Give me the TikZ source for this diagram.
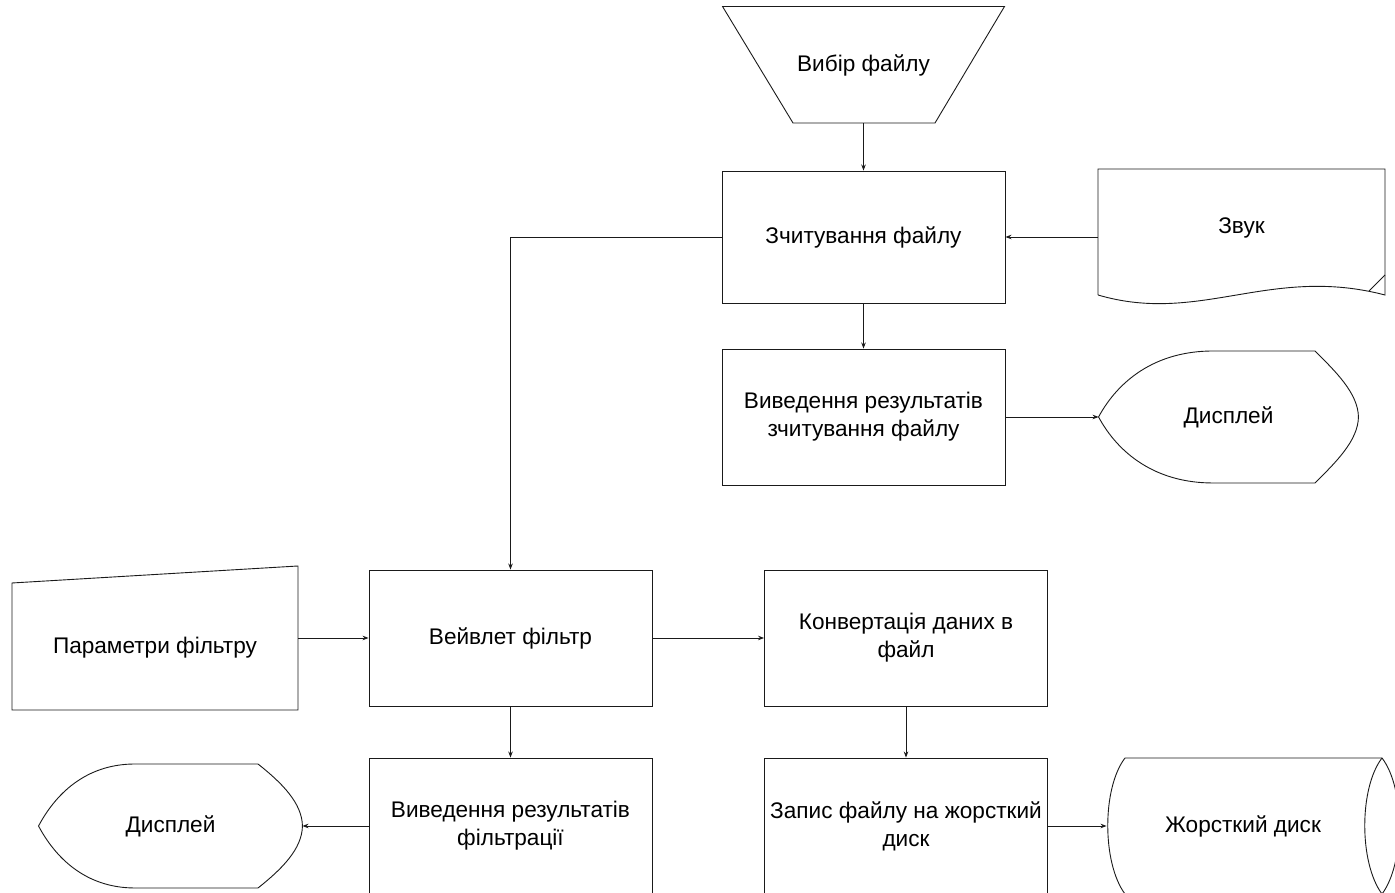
\documentclass[tikz,border=0pt]{standalone}
\usepackage{fontspec}
\setmainfont{Liberation Sans}
\usetikzlibrary{arrows.meta}
\definecolor{linia}{HTML}{1A1A1A}
\newcommand\shryft{\fontsize{22.6}{28}\selectfont}
\tikzset{blok/.style={draw=linia,minimum width=283pt,minimum height=136pt,inner sep=0,align=center,font=\shryft},
         forma/.style={minimum width=#1,minimum height=120pt,inner sep=0,align=center,font=\shryft},
         kont/.style={draw=linia,line width=.9pt},
         str/.style={-{Stealth[length=6pt,width=4.5pt]},linia,line width=.8pt}}

\begin{document}
\begin{tikzpicture}[x=1pt,y=1pt,line width=.9pt]
  \clip (0,0) rectangle (1395,893);
  % blocks
  \node[blok,minimum height=132pt] (zchyt) at (863.5,656) {Зчитування файлу};
  \node[blok] (vyved1) at (863.5,476) {Виведення результатів\\зчитування файлу};
  \node[blok] (vejvlet) at (510.5,255) {Вейвлет фільтр};
  \node[blok] (konv) at (906,255) {Конвертація даних в\\файл};
  \node[blok] (vyved2) at (510.5,67) {Виведення результатів\\фільтрації};
  \node[blok] (zapys) at (906,67) {Запис файлу на жорсткий\\диск};
  % other shapes
  \node[forma=281pt,minimum height=116pt] (vybir) at (863.5,828) {Вибір файлу};
  \draw[kont] (vybir.north west) -- (vybir.north east) -- (935,770) -- (793,770) -- cycle;
  \node[forma=287pt] (zvuk) at (1241.5,665) {Звук};
  \draw[kont] (1098,598) -- (1098,724) -- (1385,724) -- (1385,598)
    .. controls (1270,628) and (1200,568) .. (1098,598);
  \draw[kont] (1369,602) -- (1385,618);
  \node[forma=259pt,minimum height=132pt] (disp1) at (1228.5,476) {Дисплей};
  \draw[kont] (disp1.west) .. controls (1118,512) and (1155,542) .. (1213,542) -- (1315,542)
    .. controls (1335,522) and (1358,500) .. (disp1.east)
    .. controls (1358,452) and (1335,430) .. (1315,410) -- (1213,410)
    .. controls (1155,410) and (1118,440) .. (disp1.west);
  \node[forma=286pt] (param) at (155,245) {Параметри фільтру};
  \draw[kont] (12,183) -- (298,183) -- (298,327) -- (12,310) -- cycle;
  \node[forma=263pt,minimum height=124pt] (disp2) at (170.5,67) {Дисплей};
  \draw[kont] (disp2.west) .. controls (55,98) and (85,129) .. (135,129) -- (258,129)
    .. controls (282,110) and (302,90) .. (disp2.east)
    .. controls (302,44) and (282,24) .. (258,5) -- (135,5)
    .. controls (85,5) and (55,36) .. (disp2.west);
  \node[forma=288pt,minimum height=136pt] (disk) at (1251,67) {\hspace*{-16pt}Жорсткий диск};
  \draw[kont] (1125,135) -- (1382,135) .. controls (1405,105) and (1405,30) .. (1382,-1)
    -- (1125,-1) .. controls (1102,30) and (1102,105) .. (1125,135);
  \draw[kont] (1382,135) .. controls (1359,105) and (1359,30) .. (1382,-1);
  % connectors
  \draw[str] (vybir.south) -- (zchyt.north);
  \draw[str] (zvuk.west |- zchyt.east) -- (zchyt.east);
  \draw[str] (zchyt.south) -- (vyved1.north);
  \draw[str] (vyved1.east) -- (disp1.west);
  \draw[str] (zchyt.west) -| (vejvlet.north);
  \draw[str] (param.east |- vejvlet.west) -- (vejvlet.west);
  \draw[str] (vejvlet.east) -- (konv.west);
  \draw[str] (vejvlet.south) -- (vyved2.north);
  \draw[str] (vyved2.west) -- (disp2.east);
  \draw[str] (konv.south) -- (zapys.north);
  \draw[str] (zapys.east) -- (disk.west);
\end{tikzpicture}
\end{document}
